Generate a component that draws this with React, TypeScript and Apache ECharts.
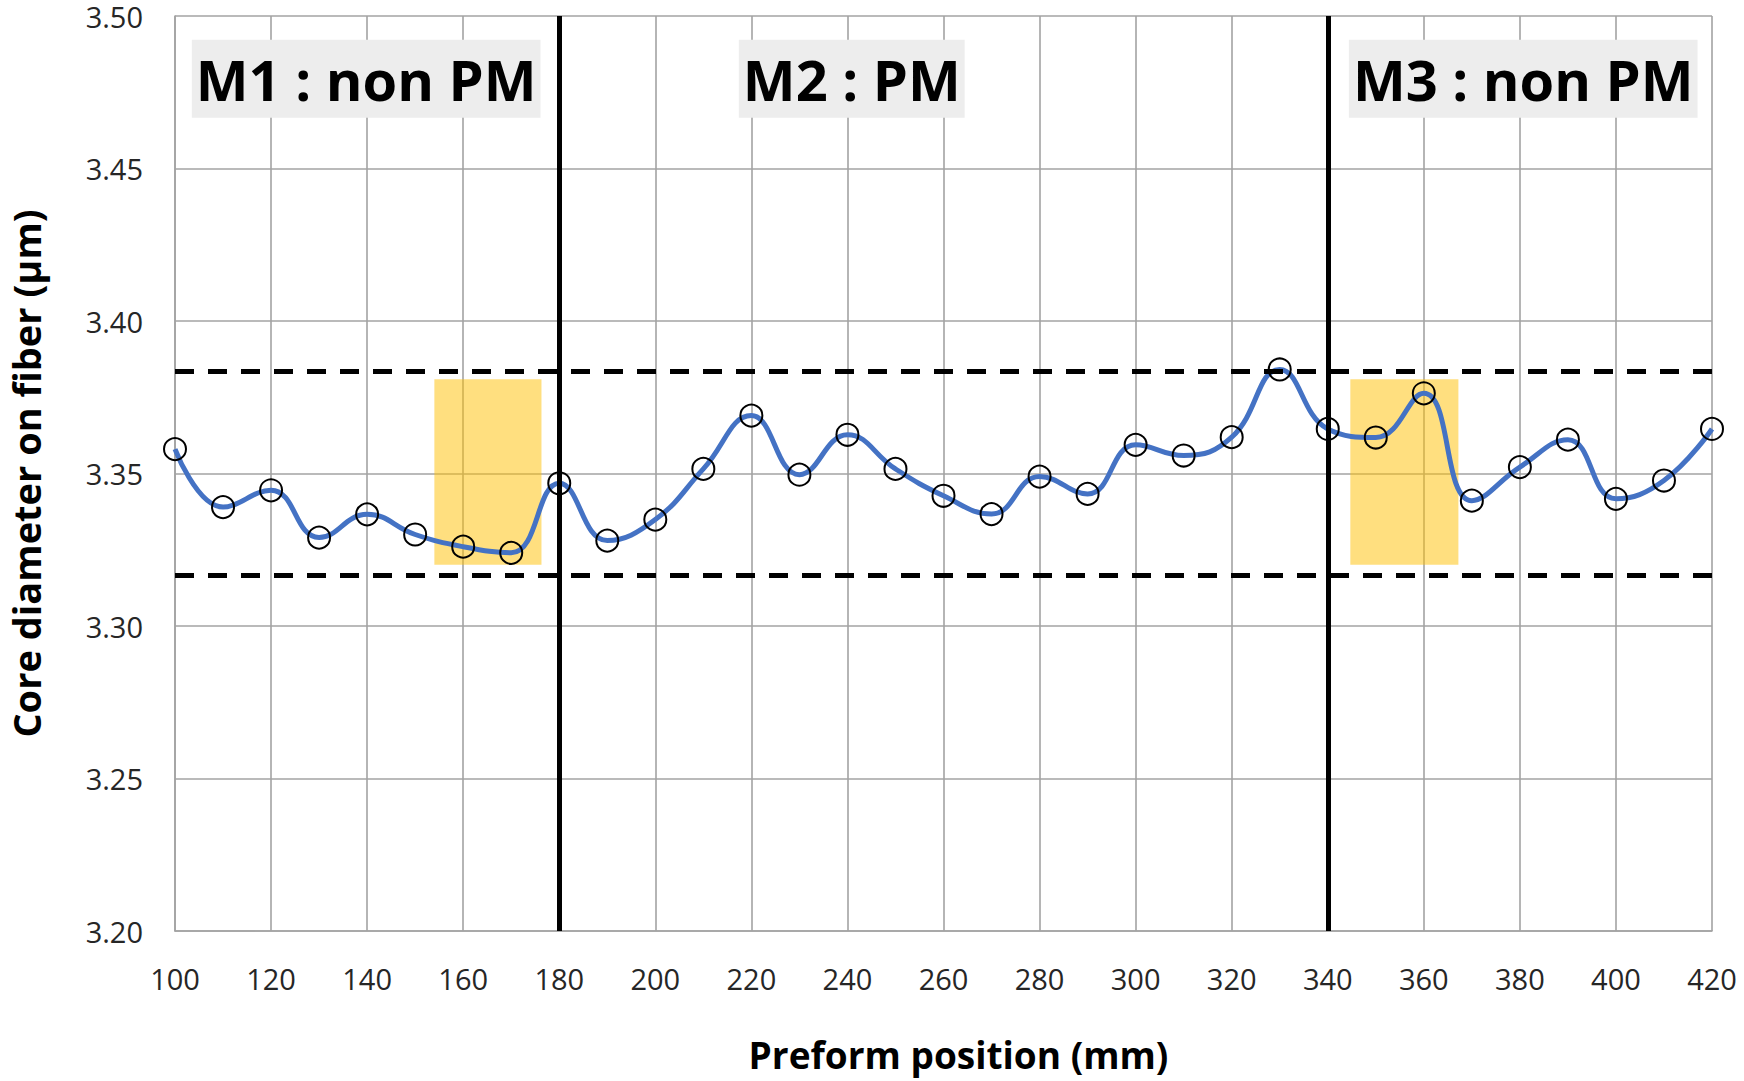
import React, { useEffect, useRef } from "react";
import * as echarts from "echarts";

const positions = [100, 110, 120, 130, 140, 150, 160, 170, 180, 190, 200, 210, 220, 230, 240, 250, 260, 270, 280, 290, 300, 310, 320, 330, 340, 350, 360, 370, 380, 390, 400, 410, 420];
const coreDiameter = [3.358, 3.339, 3.3445, 3.329, 3.3366, 3.330, 3.326, 3.324, 3.3468, 3.328, 3.3349, 3.3515, 3.369, 3.3496, 3.3627, 3.3515, 3.3427, 3.3367, 3.349, 3.3433, 3.3594, 3.3559, 3.3619, 3.3841, 3.3646, 3.3618, 3.3763, 3.3411, 3.3521, 3.3611, 3.3417, 3.3477, 3.3646];
const toleranceLimits = [3.3165, 3.3835];
const boundaries = [180, 340];
const highlightX = [[154, 176.3], [344.7, 367.2]];
const highlightY = [3.3201, 3.3809];
const regionLabels = ["M1 : non PM", "M2 : PM", "M3 : non PM"];
const regionLabelX = [139.8, 240.9, 380.7];
const regionLabelY = 3.4794;

const FONT = "Open Sans";

export default function App() {
  const ref = useRef<HTMLDivElement>(null);
  useEffect(() => {
    if (!ref.current) return;
    const chart = echarts.init(ref.current, undefined, { renderer: "svg" });
    const gridColor = "#a3a3a3";
    chart.setOption({
      animation: false,
      grid: {
        left: 175,
        right: 32,
        top: 16,
        bottom: 150,
        containLabel: false,
        outerBoundsMode: "none",
      },
      xAxis: {
        type: "value",
        min: 100,
        max: 420,
        interval: 20,
        axisLine: { show: true, lineStyle: { color: gridColor, width: 1.6 } },
        axisTick: { show: false },
        axisLabel: { fontFamily: FONT, fontSize: 29, lineHeight: 30, color: "#262626", margin: 32 },
        splitLine: { show: true, lineStyle: { color: gridColor, width: 1.6 } },
        name: "Preform position (mm)",
        nameLocation: "middle",
        nameGap: 105,
        nameTextStyle: {
          fontFamily: FONT,
          fontSize: 37,
          fontWeight: "bold",
          color: "#000",
          padding: [0, 0, 0, 30],
        },
      },
      yAxis: {
        type: "value",
        min: 3.2,
        max: 3.5,
        interval: 0.05,
        axisLine: { show: true, lineStyle: { color: gridColor, width: 1.6 } },
        axisTick: { show: false },
        axisLabel: {
          fontFamily: FONT,
          fontSize: 29,
          lineHeight: 24,
          color: "#262626",
          margin: 32,
          formatter: (v: number) => v.toFixed(2),
        },
        splitLine: { show: true, lineStyle: { color: gridColor, width: 1.6 } },
        name: "Core diameter on fiber (µm)",
        nameLocation: "middle",
        nameGap: 130,
        nameTextStyle: { fontFamily: FONT, fontSize: 38, lineHeight: 38, fontWeight: "bold", color: "#000" },
      },
      series: [
        {
          type: "line",
          data: positions.map((x, i) => [x, coreDiameter[i]]),
          smooth: 0.45,
          lineStyle: { color: "#4472C4", width: 5 },
          symbol: "circle",
          symbolSize: 22,
          itemStyle: { color: "rgba(0,0,0,0)", borderColor: "#000", borderWidth: 2 },
          markLine: {
            silent: true,
            symbol: "none",
            precision: 4,
            label: { show: false },
            data: [
              ...boundaries.map((x) => ({ xAxis: x, lineStyle: { color: "#000", width: 5, type: "solid" } })),
              ...toleranceLimits.map((y) => ({ yAxis: y, lineStyle: { color: "#000", width: 5, type: [19, 14] } })),
            ],
          },
          markPoint: {
            silent: true,
            symbol: "rect",
            symbolSize: 1,
            itemStyle: { color: "rgba(0,0,0,0)" },
            label: {
              show: true,
              position: "inside",
              formatter: "{b}",
              fontFamily: FONT,
              fontSize: 56,
              fontWeight: "bold",
              color: "#000",
              backgroundColor: "#EDEDED",
              padding: [8, 4, 8, 4],
              lineHeight: 62,
            },
            data: regionLabels.map((name, i) => ({ name, coord: [regionLabelX[i], regionLabelY] })),
          },
        },
        {
          type: "line",
          data: [],
          z: 10,
          markArea: {
            silent: true,
            itemStyle: { color: "rgba(255,192,0,0.5)" },
            data: highlightX.map(([a, b]) => [
              { xAxis: a, yAxis: highlightY[0] },
              { xAxis: b, yAxis: highlightY[1] },
            ]),
          },
        },
      ],
    });
    return () => chart.dispose();
  }, []);
  return (
    <div
      ref={ref}
      style={{ position: "fixed", left: 0, top: 0, width: 1744, height: 1081, background: "#fff" }}
    />
  );
}
